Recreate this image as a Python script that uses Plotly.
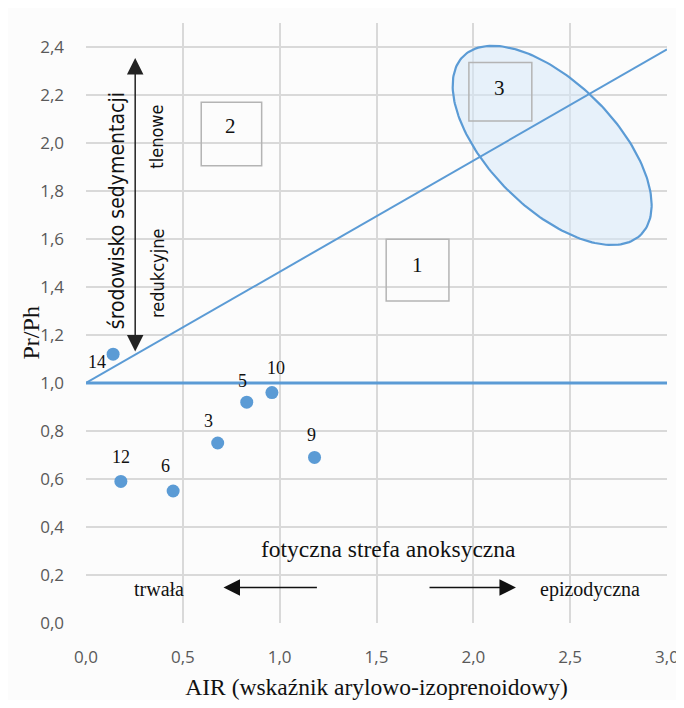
import numpy as np
import plotly.graph_objects as go

# ---- data ----
sample_labels = ["14", "12", "6", "3", "5", "10", "9"]
air_values = [0.14, 0.18, 0.45, 0.68, 0.83, 0.96, 1.18]
prph_values = [1.12, 0.59, 0.55, 0.75, 0.92, 0.96, 0.69]

x_ticks = [0.0, 0.5, 1.0, 1.5, 2.0, 2.5, 3.0]
x_ticktext = ["0,0", "0,5", "1,0", "1,5", "2,0", "2,5", "3,0"]
y_ticks = [0.0, 0.2, 0.4, 0.6, 0.8, 1.0, 1.2, 1.4, 1.6, 1.8, 2.0, 2.2, 2.4]
y_ticktext = ["0,0", "0,2", "0,4", "0,6", "0,8", "1,0", "1,2", "1,4", "1,6", "1,8", "2,0", "2,2", "2,4"]

# boundary lines
diag_x = [0.0, 3.0]
diag_y = [1.0, 2.39]
horiz_x = [0.0, 3.0]
horiz_y = [1.0, 1.0]

# zone boxes
zone_labels = ["1", "2", "3"]
zone_x0 = [1.55, 0.595, 1.977]
zone_x1 = [1.874, 0.907, 2.302]
zone_y0 = [1.342, 1.905, 2.092]
zone_y1 = [1.599, 2.17, 2.335]
zone_text_x = [1.71, 0.745, 2.135]
zone_text_y = [1.49, 2.07, 2.228]

# ellipse (zone 3 field)
ell_cx, ell_cy = 2.407, 1.99
ell_a_px, ell_b_px, ell_angle_deg = 126, 63, -45
PX_X, PX_Y = 193.9, 240.0

t = np.linspace(0, 2 * np.pi, 200)
th = np.deg2rad(ell_angle_deg)
u = ell_a_px * np.cos(t)
v = ell_b_px * np.sin(t)
ex = ell_cx + (u * np.cos(th) - v * np.sin(th)) / PX_X
ey = ell_cy + (u * np.sin(th) + v * np.cos(th)) / PX_Y

blue = "#5b9bd5"
grid = "#d9d9d9"
serif = "Liberation Serif, Times New Roman, serif"
sans = "Open Sans, Liberation Sans, sans-serif"
narrow = "Liberation Sans Narrow, DejaVu Sans Condensed, Arial Narrow, sans-serif"

fig = go.Figure()
fig.add_trace(go.Scatter(x=ex, y=ey, mode="lines", fill="toself",
                         fillcolor="rgba(214,232,247,0.55)",
                         line=dict(color=blue, width=2.2), hoverinfo="skip"))
fig.add_trace(go.Scatter(x=diag_x, y=diag_y, mode="lines",
                         line=dict(color=blue, width=2), hoverinfo="skip"))
fig.add_trace(go.Scatter(x=horiz_x, y=horiz_y, mode="lines",
                         line=dict(color=blue, width=3), hoverinfo="skip"))
fig.add_trace(go.Scatter(x=air_values, y=prph_values, mode="markers",
                         marker=dict(color=blue, size=13), hoverinfo="skip"))

# point labels (pixel offsets: dx right, dy down)
label_pos = {"14": (-16, 8), "12": (0, -24), "6": (-8, -25), "3": (-9, -22),
             "5": (-4, -21), "10": (4, -25), "9": (-3, -22)}
for lab, x, y in zip(sample_labels, air_values, prph_values):
    dx, dy = label_pos[lab]
    fig.add_annotation(x=x, y=y, text=lab, showarrow=False, xshift=dx, yshift=-dy,
                       font=dict(family=serif, size=18, color="#111"))

# zone boxes
for lab, x0, x1, y0, y1, tx, ty in zip(zone_labels, zone_x0, zone_x1, zone_y0, zone_y1,
                                        zone_text_x, zone_text_y):
    fig.add_shape(type="rect", x0=x0, x1=x1, y0=y0, y1=y1, xref="x", yref="y",
                  line=dict(color="#b4b4b4", width=1.5), layer="above")
    fig.add_annotation(x=tx, y=ty, text=lab, showarrow=False,
                       font=dict(family=serif, size=21, color="#111"))

arrow_kw = dict(xref="x", yref="y", axref="x", ayref="y", text="", showarrow=True,
                arrowhead=2, arrowsize=2.2, arrowwidth=1.5)
# vertical double arrow
fig.add_annotation(x=0.254, y=2.354, ax=0.254, ay=1.125, arrowcolor="#222",
                   arrowside="end+start", startarrowhead=2, startarrowsize=2.2,
                   **arrow_kw)

fig.add_annotation(x=0.16, y=1.72, text="środowisko sedymentacji", textangle=-90, showarrow=False,
                   font=dict(family=narrow, size=21, color="#111"))
fig.add_annotation(x=0.366, y=2.026, text="tlenowe", textangle=-90, showarrow=False,
                   font=dict(family=narrow, size=18, color="#111"))
fig.add_annotation(x=0.366, y=1.458, text="redukcyjne", textangle=-90, showarrow=False,
                   font=dict(family=narrow, size=18, color="#111"))

# bottom annotations
fig.add_annotation(x=1.56, y=0.31, text="fotyczna strefa anoksyczna", showarrow=False,
                   font=dict(family=serif, size=23.5, color="#111"))
fig.add_annotation(x=0.375, y=0.14, text="trwała", showarrow=False,
                   font=dict(family=serif, size=20, color="#111"))
fig.add_annotation(x=2.60, y=0.14, text="epizodyczna", showarrow=False,
                   font=dict(family=serif, size=20, color="#111"))
fig.add_annotation(x=0.71, y=0.148, ax=1.20, ay=0.148, arrowcolor="#111", **arrow_kw)
fig.add_annotation(x=2.22, y=0.148, ax=1.766, ay=0.148, arrowcolor="#111", **arrow_kw)

# y-axis title
fig.add_annotation(x=-0.12, y=0.483, xref="paper", yref="paper", text="Pr/Ph", textangle=-90,
                   showarrow=False, font=dict(family=serif, size=24, color="#111"))

fig.update_layout(
    width=684, height=692,
    margin=dict(l=78, r=25, t=15, b=77, autoexpand=False),
    paper_bgcolor="#fcfcfc", plot_bgcolor="#fcfcfc",
    showlegend=False,
    xaxis=dict(range=[0, 3.0], tickvals=x_ticks, ticktext=x_ticktext, showgrid=True,
               gridcolor=grid, gridwidth=1.5, zeroline=False, showline=False,
               tickfont=dict(family=sans, size=17, color="#595959"), ticks="",
               ticklabelstandoff=22, automargin=False, ticklabeloverflow="allow",
               title=dict(text="AIR (wskaźnik arylowo-izoprenoidowy)",
                          font=dict(family=serif, size=23.5, color="#111"), standoff=14)),
    yaxis=dict(range=[0, 2.5], tickvals=y_ticks, ticktext=y_ticktext, showgrid=True,
               gridcolor=grid, gridwidth=1.5, zeroline=False, showline=False,
               tickfont=dict(family=sans, size=17, color="#595959"), ticks="",
               ticklabelstandoff=21, automargin=False),
)
fig.write_html("out.html")
